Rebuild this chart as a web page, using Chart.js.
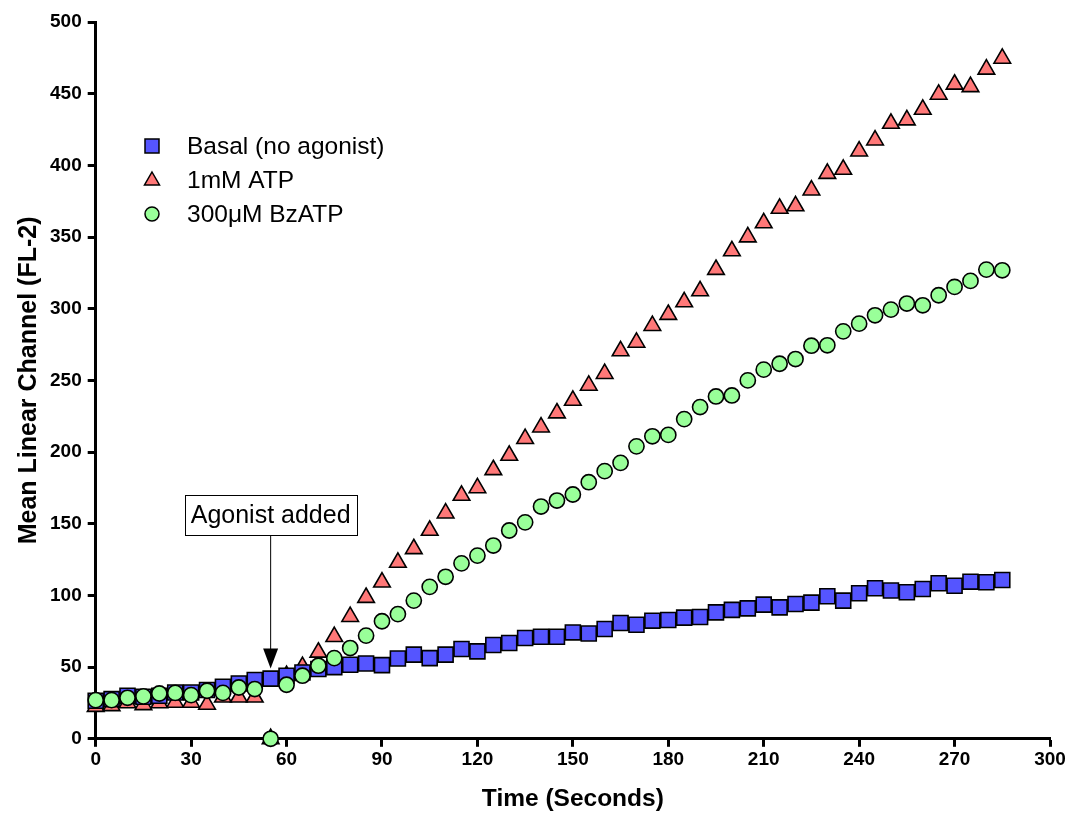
<!DOCTYPE html>
<html>
<head>
<meta charset="utf-8">
<script src="https://cdn.jsdelivr.net/npm/chart.js@4.4.1/dist/chart.umd.min.js"></script>
<style>
  html, body { margin: 0; padding: 0; background: #fff; }
  #wrap { width: 1079px; height: 814px; }
</style>
</head>
<body>
<div id="wrap"><canvas id="chartFlujo"></canvas></div>
<script>
// Tiempos (segundos)
const tiempos = [0, 5, 10, 15, 20, 25, 30, 35, 40, 45, 50, 55, 60, 65, 70, 75, 80, 85, 90, 95,
  100, 105, 110, 115, 120, 125, 130, 135, 140, 145, 150, 155, 160, 165, 170, 175, 180, 185, 190, 195,
  200, 205, 210, 215, 220, 225, 230, 235, 240, 245, 250, 255, 260, 265, 270, 275, 280, 285];

// Basal (no agonist)
const basal = [26.5, 27.7, 30, 29.3, 30, 32.3, 32.3, 34, 36.3, 38.6, 41, 42, 44, 46.3, 48.7, 50, 51.7, 52.5, 51.4, 56,
  58.7, 56.3, 58.7, 62.6, 61, 65.4, 66.8, 70.3, 71.2, 71.2, 74.2, 73.5, 76.6, 80.8, 79.6, 82.4, 82.9, 84.5, 85, 88.2,
  89.9, 91, 93.6, 91.7, 94, 95, 99.4, 96.4, 101.5, 105, 103.4, 102.2, 104.5, 108.5, 106.8, 109.6, 109.2, 110.8];

// 1mM ATP
const atp = [22.5, 23, 25, 23.7, 25, 25.4, 25.4, 24, 29, 29, 29, 0, 44, 50.3, 60.3, 71.2, 85.2, 98.5, 109.2, 123,
  132.5, 145.3, 157.4, 169.7, 175, 187.6, 197.6, 209.3, 217.4, 227.2, 236, 246.5, 254.7, 270.5, 276.5, 288.2, 295.9, 304.7, 312.4, 327.3,
  340.3, 350, 359.8, 369.9, 371.7, 382.7, 394.3, 397.1, 409.9, 417.6, 429.2, 431.6, 439, 449.5, 456.5, 454.8, 467, 474.6];

// 300uM BzATP
const bzatp = [27, 27, 28.6, 29.6, 31.6, 32, 30.5, 33.5, 32, 35.8, 34.7, 0, 37.7, 44, 51, 56.3, 63.3, 72, 82, 87,
  96.4, 106, 113, 122.4, 127.8, 134.8, 145.3, 151, 162, 166.2, 170.4, 179, 186.7, 192.5, 204, 211, 212, 223, 231.4, 238.8,
  239.5, 250, 257.5, 261.6, 264.9, 274.2, 274.5, 284.2, 289.6, 295.4, 299.4, 303.6, 302.4, 309.4, 315.2, 319.4, 327.3, 326.8];

const etiquetas = ['Basal (no agonist)', '1mM ATP', '300\u03bcM BzATP'];

// Anotacion: momento en que se agrega el agonista
const agonistaTiempo = 55;
const agonistaPunta = 49;
const agonistaTexto = 'Agonist added';
const agonistaCaja = 156;

const fuente = '"Liberation Sans", Arial, Helvetica, sans-serif';

const aPuntos = (ys) => tiempos.map((t, i) => ({ x: t, y: ys[i] }));

const estilos = [
  { fill: 'rgb(85, 85, 255)', style: 'rect', radius: 10.6, order: 1 },
  { fill: 'rgb(255, 120, 120)', style: 'triangle', radius: 9.6, order: 2 },
  { fill: 'rgb(153, 255, 153)', style: 'circle', radius: 7.6, order: 0 }
];

// Leyenda dibujada dentro del area
const leyenda = {
  id: 'leyenda',
  afterDraw(chart) {
    const c = chart.ctx;
    const x = 152, y0 = 146, paso = 34;
    c.save();
    c.font = '24.5px ' + fuente;
    c.textBaseline = 'middle';
    estilos.forEach((e, i) => {
      const y = y0 + i * paso;
      c.fillStyle = e.fill;
      c.strokeStyle = '#000';
      c.lineWidth = 1.5;
      c.beginPath();
      if (e.style === 'rect') {
        c.rect(x - 7, y - 7, 14, 14);
      } else if (e.style === 'triangle') {
        c.moveTo(x, y - 8);
        c.lineTo(x + 7.5, y + 5);
        c.lineTo(x - 7.5, y + 5);
        c.closePath();
      } else {
        c.arc(x, y, 7, 0, Math.PI * 2);
      }
      c.fill();
      c.stroke();
      c.fillStyle = '#000';
      c.fillText(etiquetas[i], 187, y + 1);
    });
    c.restore();
  }
};

// Flecha + caja "Agonist added"
const anotacion = {
  id: 'anotacion',
  afterDraw(chart) {
    const c = chart.ctx;
    const sx = chart.scales.x, sy = chart.scales.y;
    const ax = sx.getPixelForValue(agonistaTiempo);
    const punta = sy.getPixelForValue(agonistaPunta);
    const cy = sy.getPixelForValue(agonistaCaja);
    c.save();
    c.font = '25px ' + fuente;
    const w = c.measureText(agonistaTexto).width + 12;
    const h = 40;
    c.fillStyle = '#fff';
    c.fillRect(ax - w / 2, cy - h / 2, w, h);
    c.strokeStyle = '#000';
    c.lineWidth = 1;
    c.strokeRect(Math.round(ax - w / 2) + 0.5, Math.round(cy - h / 2) + 0.5, Math.round(w), h);
    c.fillStyle = '#000';
    c.textAlign = 'center';
    c.textBaseline = 'middle';
    c.fillText(agonistaTexto, ax, cy + 1);
    c.beginPath();
    c.moveTo(ax, cy + h / 2);
    c.lineTo(ax, punta - 18);
    c.stroke();
    c.beginPath();
    c.moveTo(ax - 7.5, punta - 20);
    c.lineTo(ax + 7.5, punta - 20);
    c.lineTo(ax, punta);
    c.closePath();
    c.fill();
    c.restore();
  }
};

const ctx = document.getElementById('chartFlujo').getContext('2d');

const chartFlujo = new Chart(ctx, {
  type: 'scatter',
  data: {
    datasets: [basal, atp, bzatp].map((serie, i) => ({
      label: etiquetas[i],
      data: aPuntos(serie),
      pointStyle: estilos[i].style,
      pointRadius: estilos[i].radius,
      pointHoverRadius: estilos[i].radius,
      backgroundColor: estilos[i].fill,
      borderColor: '#000',
      borderWidth: 1.6,
      order: estilos[i].order,
      clip: false
    }))
  },
  options: {
    responsive: true,
    maintainAspectRatio: false,
    animation: false,
    layout: { padding: { left: 14, right: 29, top: 22, bottom: 0 } },
    plugins: {
      legend: { display: false },
      tooltip: { enabled: false }
    },
    scales: {
      x: {
        type: 'linear',
        min: 0,
        max: 300,
        ticks: { stepSize: 30, color: '#000', padding: 2, font: { family: fuente, size: 19, weight: 'bold' } },
        grid: { drawOnChartArea: false, drawTicks: true, tickLength: 8, tickWidth: 3, tickColor: '#000' },
        border: { display: true, color: '#000', width: 3 },
        title: { display: true, text: 'Time (Seconds)', color: '#000', padding: { top: 11, bottom: 0 }, font: { family: fuente, size: 24.5, weight: 'bold' } }
      },
      y: {
        min: 0,
        max: 500,
        ticks: { stepSize: 50, color: '#000', padding: 6, font: { family: fuente, size: 19, weight: 'bold' } },
        grid: { drawOnChartArea: false, drawTicks: true, tickLength: 8, tickWidth: 3, tickColor: '#000' },
        border: { display: true, color: '#000', width: 3 },
        title: { display: true, text: 'Mean Linear Channel (FL-2)', color: '#000', padding: { top: 0, bottom: 0 }, font: { family: fuente, size: 25, weight: 'bold' } }
      }
    }
  },
  plugins: [leyenda, anotacion]
});
</script>
</body>
</html>
